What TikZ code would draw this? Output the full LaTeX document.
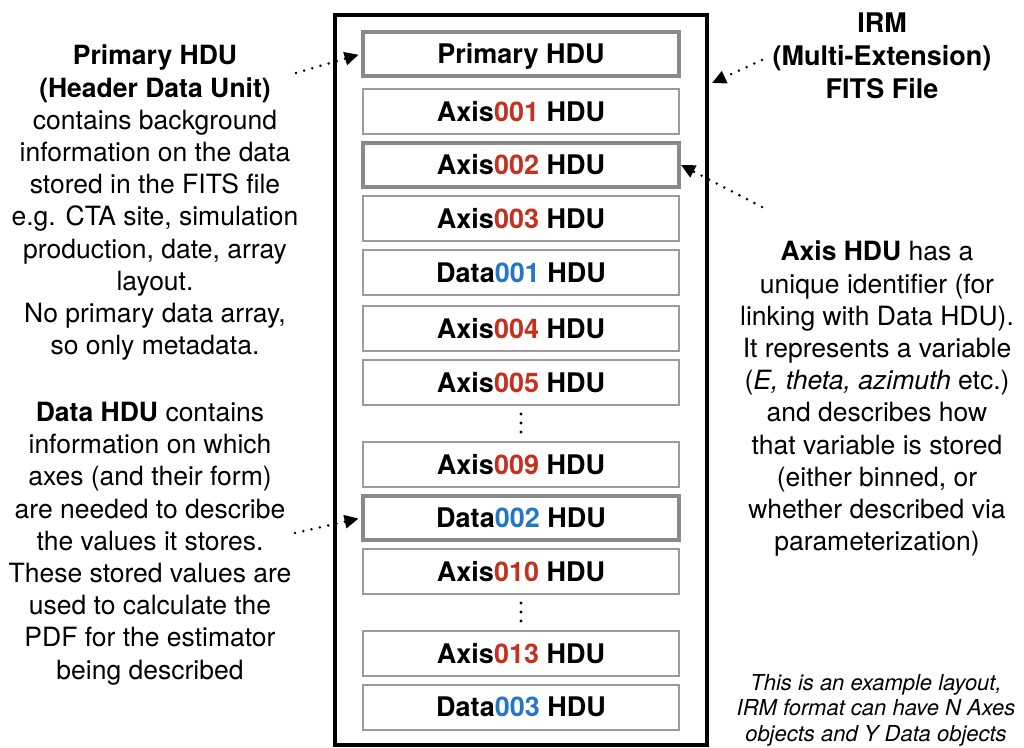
\documentclass[tikz,border=0pt]{standalone}
\usepackage{fontspec}
\setmainfont{TeX Gyre Heros}
\usetikzlibrary{arrows.meta}
\definecolor{hred}{RGB}{198,48,28}
\definecolor{hblue}{RGB}{38,118,198}
\definecolor{thinbox}{RGB}{155,155,155}
\definecolor{thickbox}{RGB}{138,138,138}
\begin{document}
\begin{tikzpicture}[x=1pt,y=-1pt,
  hdu/.style={draw=thinbox, line width=2pt, minimum width=316pt, minimum height=45pt,
    inner sep=0pt, text height=19pt, text depth=0pt,
    font=\bfseries\fontsize{27}{30}\selectfont},
  hduthick/.style={hdu, draw=thickbox, line width=4pt, minimum height=44pt},
  note/.style={align=center, inner sep=0pt, anchor=north,
    font=\fontsize{26.5}{32.2}\selectfont},
  ptr/.style={line width=2.8pt, dash pattern=on 0pt off 8.5pt, line cap=round,
    -{Triangle[length=14pt,width=13pt]}},
  ell/.style={fill=black}]
\useasboundingbox (0,0) rectangle (1024,747);

% outer FITS file box
\node[draw=black, line width=4pt, minimum width=372pt, minimum height=729.5pt, inner sep=0pt]
  (fits) at (521,379.75) {};

% HDU boxes
\node[hduthick] (primary) at (521,54)    {Primary HDU};
\node[hdu]      (axis1)   at (521,111.5) {Axis\textcolor{hred}{001} HDU};
\node[hduthick] (axis2)   at (521,165)   {Axis\textcolor{hred}{002} HDU};
\node[hdu]      (axis3)   at (521,218.5) {Axis\textcolor{hred}{003} HDU};
\node[hdu]      (data1)   at (521,272.5) {Data\textcolor{hblue}{001} HDU};
\node[hdu]      (axis4)   at (521,328.5) {Axis\textcolor{hred}{004} HDU};
\node[hdu]      (axis5)   at (521,382.5) {Axis\textcolor{hred}{005} HDU};
\node[hdu]      (axis9)   at (521,464.5) {Axis\textcolor{hred}{009} HDU};
\node[hduthick] (data2)   at (521,518)   {Data\textcolor{hblue}{002} HDU};
\node[hdu]      (axis10)  at (521,571.5) {Axis\textcolor{hred}{010} HDU};
\node[hdu]      (axis13)  at (521,653.5) {Axis\textcolor{hred}{013} HDU};
\node[hdu]      (data3)   at (521,707)   {Data\textcolor{hblue}{003} HDU};

% vertical ellipses
\foreach \yy in {414,423,432,603,612,621} \fill[ell] (521,\yy) circle (1.6pt);

% annotations
\node[note] (ltop) at (155,45) {\textbf{Primary HDU}\\\textbf{(Header Data Unit)}\\contains background\\information on the data\\stored in the FITS file\\e.g. CTA site, simulation\\production, date, array\\layout.\\No primary data array,\\so only metadata.};

\node[note] (lbot) at (150,402) {\textbf{Data HDU} contains\\information on which\\axes (and their form)\\are needed to describe\\the values it stores.\\These stored values are\\used to calculate the\\PDF for the estimator\\being described};

\node[note, font=\bfseries\fontsize{27}{33}\selectfont] (rtop) at (882,13) {IRM\\(Multi-Extension)\\FITS File};

\node[note] (rmid) at (877,241) {\textbf{Axis HDU} has a\\unique identifier (for\\linking with Data HDU).\\It represents a variable\\(\textit{E, theta, azimuth} etc.)\\and describes how\\that variable is stored\\(either binned, or\\whether described via\\parameterization)};

\node[note, font=\itshape\fontsize{22}{25.5}\selectfont] (rbot) at (876,674) {This is an example layout,\\IRM format can have N Axes\\objects and Y Data objects};

% pointer start / end coordinates
\coordinate (s1) at (296,73);
\coordinate (s2) at (762,60);
\coordinate (s3) at (762,207);
\coordinate (s4) at (295,533);
\path (fits.north east) ++(3,70) coordinate (irmtip);

\draw[ptr, shorten >=2.5pt] (s1) -- (primary.west);
\draw[ptr] (s2) -- (irmtip);
\draw[ptr] (s3) -- (axis2.east);
\draw[ptr, shorten >=2.5pt] (s4) -- (data2.west);
\end{tikzpicture}
\end{document}
